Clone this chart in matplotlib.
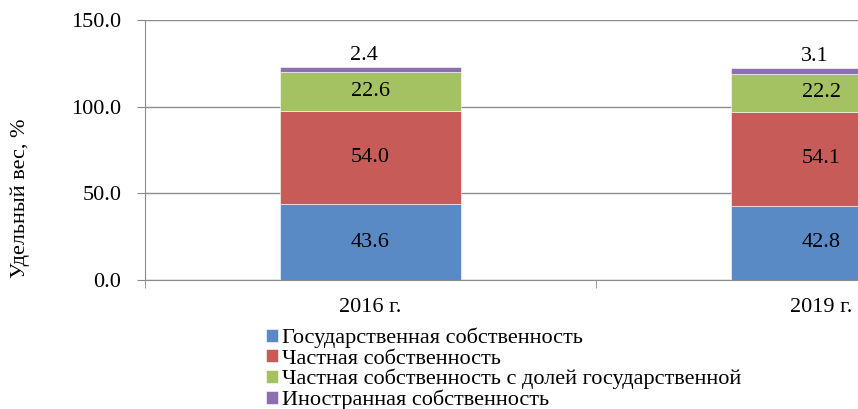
import numpy as np
import matplotlib
matplotlib.use('Agg')
import matplotlib.pyplot as plt

plt.rcParams['font.family'] = ['Liberation Serif', 'DejaVu Serif']

years = ['2016 г.', '2019 г.']
state = [43.6, 42.8]
private = [54.0, 54.1]
private_state = [22.6, 22.2]
foreign = [2.4, 3.1]
labels = ['Государственная собственность', 'Частная собственность',
          'Частная собственность с долей государственной', 'Иностранная собственность']
colors = ['#5A8AC6', '#C65B57', '#A5C262', '#8B6FAF']

fig = plt.figure(figsize=(8.58, 4.09), dpi=100)
# plot area runs past the right edge, like the cropped original
ax = fig.add_axes([145 / 858, 129 / 409, 902 / 858, 260 / 409])

x = np.arange(len(years))
series = [state, private, private_state, foreign]
bottom = np.zeros(len(years))
for vals, lab, col in zip(series, labels, colors):
    vals = np.array(vals)
    ax.bar(x, vals, 0.4, bottom=bottom, color=col, label=lab,
           edgecolor='white', linewidth=0.4, zorder=3)
    for xi, b, v in zip(x, bottom, vals):
        if lab != labels[-1]:
            ax.text(xi, b + v / 2, f'{v:.1f}', ha='center', va='center', fontsize=16, zorder=4)
        else:
            ax.text(xi - 0.015, b + v + 7, f'{v:.1f}', ha='center', va='center', fontsize=16, zorder=4)
    bottom += vals

ax.set_xlim(-0.5, 1.5)
ax.set_ylim(0, 150)
ax.set_yticks([0, 50, 100, 150])
ax.set_yticklabels([f'{v:.1f}' for v in [0, 50, 100, 150]], fontsize=16)
ax.set_xticks(x)
ax.set_xticklabels(years, fontsize=16)
ax.set_xticks([-0.5, 0.5, 1.5], minor=True)
ax.tick_params(axis='x', which='major', length=0, pad=13)
ax.tick_params(axis='x', which='minor', length=6, color='#888888')
ax.tick_params(axis='y', length=6, color='#888888', pad=11)
ax.grid(axis='y', color='#8c8c8c', linewidth=1, zorder=0)
for s in ['top', 'right']:
    ax.spines[s].set_visible(False)
for s in ['left', 'bottom']:
    ax.spines[s].set_color('#8c8c8c')

fig.text(20 / 858, 0.516, 'Удельный вес, %', rotation=90, ha='center', va='center', fontsize=16)

fig.legend(loc='upper left', bbox_to_anchor=(266 / 858, 1 - 328 / 409), frameon=False,
           fontsize=16, handlelength=0.55, handleheight=0.55, handletextpad=0.15,
           labelspacing=0.02, borderpad=0, borderaxespad=0)

fig.savefig('out.png', dpi=100)
